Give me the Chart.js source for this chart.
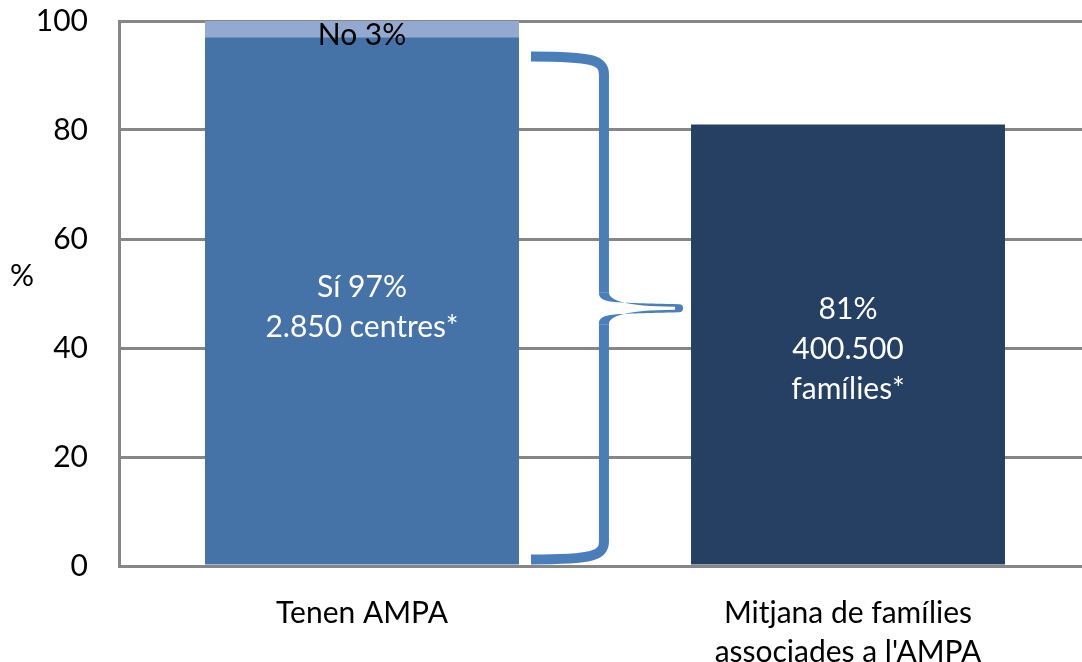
<!DOCTYPE html>
<html>
<head>
<meta charset="utf-8">
<script src="https://cdn.jsdelivr.net/npm/chart.js@4.4.0/dist/chart.umd.min.js"></script>
<style>
  html, body { margin: 0; padding: 0; background: #fff; overflow: hidden; }
  #wrap { width: 1092px; height: 690px; margin-top: -28px; }
</style>
</head>
<body>
<div id="wrap"><canvas id="chart"></canvas></div>
<script>
// data
const categories = ['Tenen AMPA', ['Mitjana de famílies', "associades a l'AMPA"]];
const siValues = [97, null];
const noValues = [3, null];
const familiesValues = [null, 81];
const yTicks = [0, 20, 40, 60, 80, 100];

const siLabel = ['Sí 97%', '2.850 centres*'];
const noLabel = 'No 3%';
const familiesLabel = ['81%', '400.500', 'famílies*'];
const yTitle = '%';

// brace ends (in axis units)
const braceTop = 93.5;
const braceMid = 47.3;
const braceBottom = 1.2;

const FONT = 'Lato, "Open Sans", sans-serif';
const GRID = '#868686';

// draws the bar texts, the curly brace and the horizontal "%" title
const extrasPlugin = {
  id: 'extras',
  afterDatasetsDraw(chart) {
    const ctx = chart.ctx;
    const y = chart.scales.y;
    const siBar = chart.getDatasetMeta(0).data[0];
    const famBar = chart.getDatasetMeta(2).data[1];

    ctx.save();
    ctx.font = '30px ' + FONT;
    ctx.textAlign = 'center';
    ctx.textBaseline = 'middle';

    // Sí label
    ctx.fillStyle = '#ffffff';
    let cy = (siBar.y + siBar.base) / 2 + 6;
    siLabel.forEach((t, i) => ctx.fillText(t, siBar.x, cy + (i - (siLabel.length - 1) / 2) * 40));

    // families label
    cy = (famBar.y + famBar.base) / 2 + 5;
    familiesLabel.forEach((t, i) => ctx.fillText(t, famBar.x, cy + (i - (familiesLabel.length - 1) / 2) * 40));

    // No label
    ctx.fillStyle = '#000000';
    ctx.fillText(noLabel, siBar.x, y.getPixelForValue(siValues[0]) - 2);

    // "%" title
    ctx.fillText(yTitle, 22, (chart.chartArea.top + chart.chartArea.bottom) / 2 - 17);

    // curly brace
    const L = siBar.x + siBar.width / 2 + 12;
    const T = famBar.x - famBar.width / 2 - 8;
    const V = L + (T - L) * 0.48;
    const yt = y.getPixelForValue(braceTop);
    const yb = y.getPixelForValue(braceBottom);
    const ym = y.getPixelForValue(braceMid);

    ctx.strokeStyle = '#4a7ebb';
    ctx.fillStyle = '#4a7ebb';
    ctx.lineCap = 'butt';
    ctx.lineWidth = 10;
    ctx.beginPath();
    ctx.moveTo(L, yt);
    ctx.bezierCurveTo(V - 10, yt, V, yt + 4, V, yt + 18);
    ctx.lineTo(V, ym - 16);
    ctx.stroke();

    ctx.beginPath();
    ctx.moveTo(V, ym + 16);
    ctx.lineTo(V, yb - 18);
    ctx.bezierCurveTo(V, yb - 4, V - 10, yb, L, yb);
    ctx.stroke();

    // tapered tip, filled outline
    ctx.beginPath();
    ctx.moveTo(V - 5, ym - 16);
    ctx.bezierCurveTo(V - 5, ym - 4, V + 10, ym - 6, T - 4, ym - 4);
    ctx.arc(T - 4, ym, 4, -Math.PI / 2, Math.PI / 2);
    ctx.bezierCurveTo(V + 10, ym + 6, V - 5, ym + 4, V - 5, ym + 16);
    ctx.lineTo(V + 5, ym + 16);
    ctx.bezierCurveTo(V + 5, ym + 8, V + 20, ym + 2, T - 8, ym + 1.5);
    ctx.lineTo(T - 8, ym - 1.5);
    ctx.bezierCurveTo(V + 20, ym - 2, V + 5, ym - 8, V + 5, ym - 16);
    ctx.closePath();
    ctx.fill();

    ctx.restore();
  }
};

new Chart(document.getElementById('chart'), {
  type: 'bar',
  data: {
    labels: categories,
    datasets: [
      { label: 'Sí', data: siValues, backgroundColor: '#4573a7' },
      { label: 'No', data: noValues, backgroundColor: '#93a9cf' },
      { label: 'Famílies', data: familiesValues, backgroundColor: '#264063' }
    ]
  },
  options: {
    responsive: true,
    maintainAspectRatio: false,
    animation: false,
    layout: { padding: { top: 8, right: 1, left: 0, bottom: 0 } },
    datasets: {
      bar: { categoryPercentage: 1, barPercentage: 0.646, skipNull: true }
    },
    plugins: {
      legend: { display: false },
      tooltip: { enabled: false }
    },
    scales: {
      x: {
        stacked: true,
        grid: { display: false, drawTicks: false },
        border: { display: true, color: GRID, width: 3 },
        ticks: {
          color: '#000',
          padding: 28,
          font: { family: FONT, size: 30, lineHeight: 1.3 },
          maxRotation: 0
        },
        afterFit(scale) { scale.height = 96; }
      },
      y: {
        stacked: true,
        min: 0,
        max: 100,
        afterBuildTicks(scale) { scale.ticks = yTicks.map(v => ({ value: v })); },
        grid: { color: GRID, lineWidth: 3, drawTicks: false },
        border: { display: true, color: GRID, width: 3 },
        ticks: {
          color: '#000',
          padding: 31,
          font: { family: FONT, size: 30 }
        },
        afterFit(scale) { scale.width = 119; }
      }
    }
  },
  plugins: [extrasPlugin]
});
</script>
</body>
</html>
